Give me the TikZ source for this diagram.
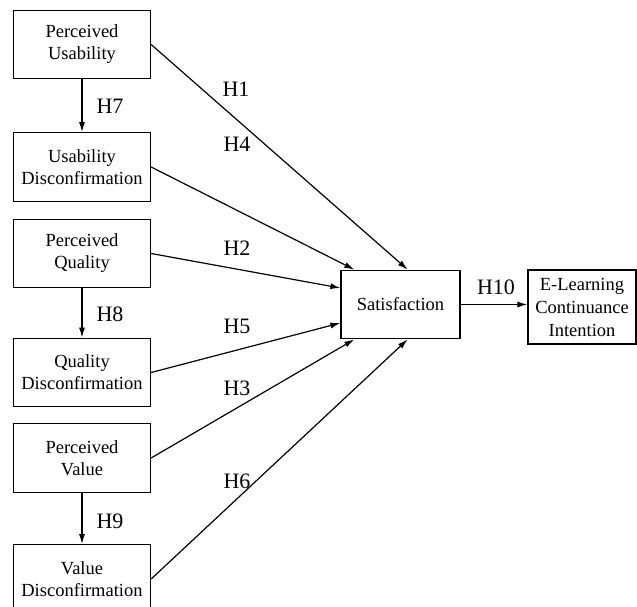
\documentclass[tikz,border=0pt]{standalone}
\usepackage{fontspec}
\setmainfont{Liberation Serif}
\usetikzlibrary{arrows.meta}
\tikzset{
  box/.style={draw, line width=1.3pt, rectangle, minimum width=137pt, minimum height=68.5pt, inner sep=0pt, align=center, font=\fontsize{18.5}{22}\selectfont},
  conn/.style={line width=1.2pt, -{Latex[length=10pt,width=6pt]}},
  hyp/.style={anchor=base, inner sep=0pt, font=\fontsize{22}{26}\selectfont}
}
\begin{document}
\begin{tikzpicture}[x=1pt,y=-1pt]
\useasboundingbox (0,0) rectangle (637,607);
\node[box] (PU) at (82,44.5) {Perceived\\Usability};
\node[box] (UD) at (82,167) {Usability\\Disconfirmation};
\node[box] (PQ) at (82,253.5) {Perceived\\Quality};
\node[box] (QD) at (82,372.5) {Quality\\Disconfirmation};
\node[box] (PV) at (82,458) {Perceived\\Value};
\node[box] (VD) at (82,579) {Value\\Disconfirmation};
\node[box, minimum width=119pt, minimum height=68.5pt] (SAT) at (400.5,304.5) {Satisfaction};
\node[box, minimum width=108pt, minimum height=74pt, font=\fontsize{18.5}{23}\selectfont] (EL) at (582,307) {E-Learning\\Continuance\\Intention};

\draw[conn] (PU) -- (UD);
\draw[conn] (PQ) -- (QD);
\draw[conn] (PV) -- (VD);
\draw[conn] (PU.east) -- ([xshift=-53pt]SAT.north east);
\draw[conn] (UD.east) -- ([xshift=14pt]SAT.north west);
\draw[conn] (PQ.east) -- ([yshift=16.5pt]SAT.west);
\draw[conn] (QD.east) -- ([yshift=-18.5pt]SAT.west);
\draw[conn] (PV.east) -- ([xshift=14pt]SAT.south west);
\draw[conn] (VD.east) -- ([xshift=-53pt]SAT.south east);
\draw[conn] (SAT.east) -- (SAT.east -| EL.west);

\node[hyp] (H1) at (236,97) {H1};
\node[hyp] (H4) at (237,152) {H4};
\node[hyp] (H2) at (237,255) {H2};
\node[hyp] (H5) at (237,333) {H5};
\node[hyp] (H3) at (237,395) {H3};
\node[hyp] (H6) at (237,488) {H6};
\node[hyp] (H7) at (110,114) {H7};
\node[hyp] (H8) at (110,321) {H8};
\node[hyp] (H9) at (110,528) {H9};
\node[hyp] (H10) at (496,294) {H10};
\end{tikzpicture}
\end{document}
